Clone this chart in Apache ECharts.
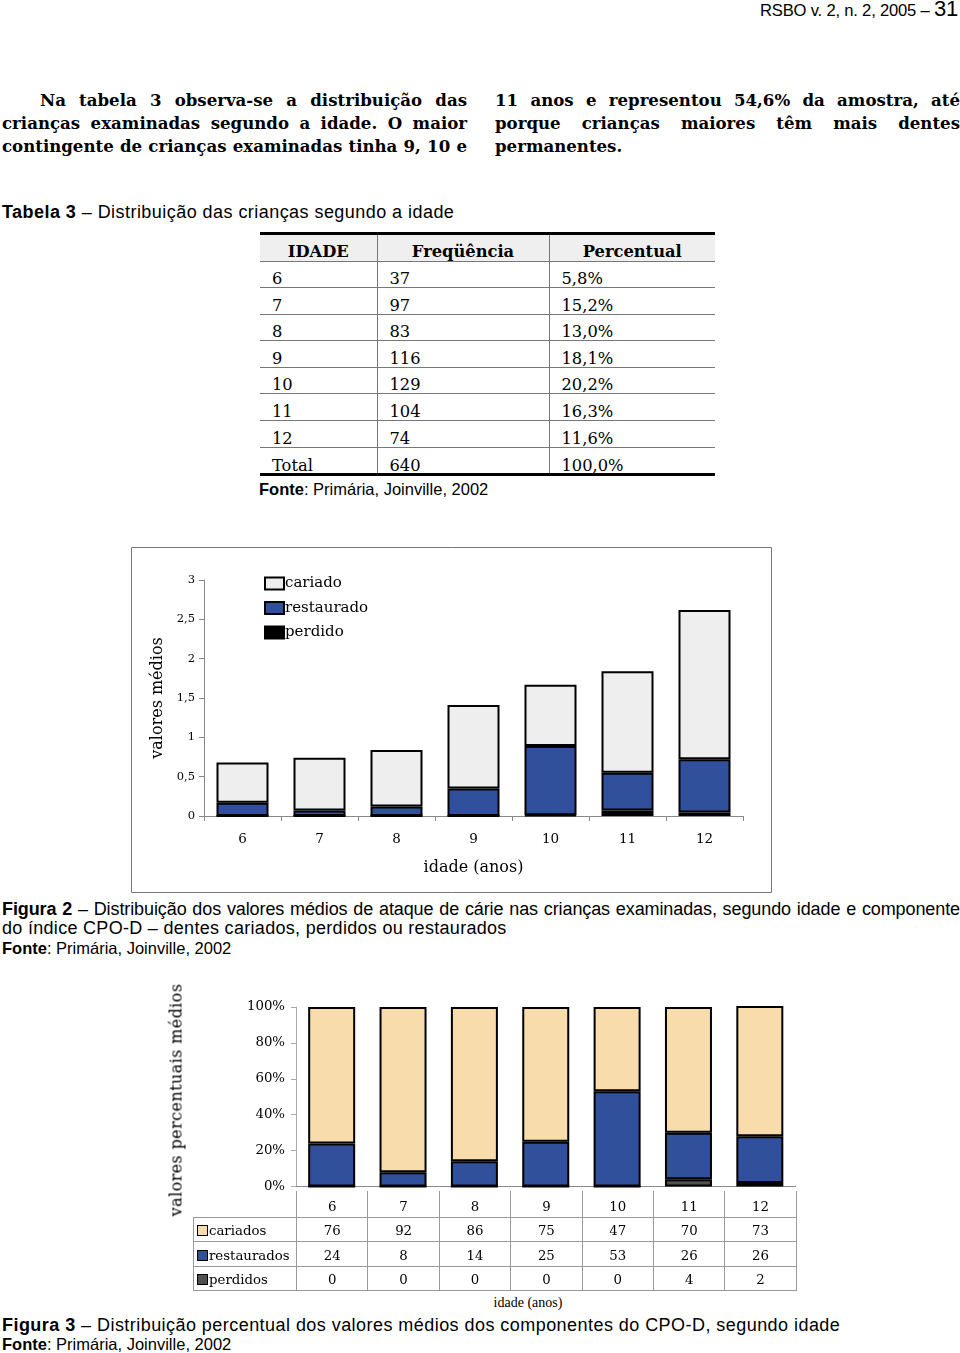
<!DOCTYPE html>
<html>
<head>
<meta charset="utf-8">
<script src="https://cdn.jsdelivr.net/npm/echarts@6/dist/echarts.min.js"></script>
<style>
  html, body { margin:0; padding:0; background:#fff; }
  #page { position:relative; width:960px; height:1353px; overflow:hidden; background:#fff; color:#000; }
  .abs { position:absolute; white-space:nowrap; }
  .body { font-family:'DejaVu Serif', serif; font-weight:bold; font-size:16.6px; line-height:23px; height:23px; text-align:justify; text-align-last:justify; white-space:nowrap; overflow:visible; }
  .sans { font-family:'Liberation Sans', Arial, sans-serif; }
  .cap { font-family:'Liberation Sans', Arial, sans-serif; font-size:18px; line-height:20px; }
  table { border-collapse:collapse; table-layout:fixed; }
  #t3 td, #t3 th { font-family:'DejaVu Serif', serif; font-size:16.3px; line-height:17px; padding:0 0 0 12px; text-align:left; vertical-align:bottom; border-right:1px solid #777; border-bottom:1px solid #777; }
  #t3 th { font-weight:bold; text-align:center; line-height:18px; padding:0; background:#efefef; }
  #t3 td:last-child, #t3 th:last-child { border-right:none; }
  #t4 td { font-family:'DejaVu Serif', serif; font-size:13.3px; line-height:16px; text-align:center; vertical-align:bottom; border:1px solid #999; padding:0 0 2px 0; }
  #t4 td.lab { text-align:left; padding-left:3px; }
  .key { display:inline-block; width:9px; height:9px; border:1px solid #000; margin-right:1px; vertical-align:-1px; }
</style>
</head>
<body>
<div id="page">
  <div class="abs sans" style="right:2px; top:-3px; font-size:16.6px; line-height:24px; letter-spacing:-0.2px;">RSBO v. 2, n. 2, 2005 – <span style="font-size:22px;">31</span></div>

  <div class="abs sans" style="left:2px; top:201px; font-size:18px; line-height:22px; letter-spacing:0.45px;"><b>Tabela 3</b> – Distribuição das crianças segundo a idade</div>
  <div class="abs" style="left:260px; top:232px; width:455px; height:3px; background:#000;"></div>
  <table id="t3" class="abs" style="left:260px; top:235px; width:455px;"></table>
  <div class="abs" id="t3bottom" style="left:260px; top:473px; width:455px; height:3px; background:#000;"></div>
  <div class="abs sans" style="left:259px; top:479px; font-size:16.5px; line-height:20px;"><b>Fonte</b>: Primária, Joinville, 2002</div>

  <div id="chart1" class="abs" style="left:131px; top:547px; width:642px; height:347px;"></div>

  <div class="abs cap" style="left:2px; top:899px; width:958px; white-space:nowrap; text-align:justify; text-align-last:justify; height:20px; letter-spacing:-0.1px;"><b>Figura 2</b> – Distribuição dos valores médios de ataque de cárie nas crianças examinadas, segundo idade e componente</div>
  <div class="abs cap" style="left:2px; top:918px; letter-spacing:0.3px;">do índice CPO-D – dentes cariados, perdidos ou restaurados</div>
  <div class="abs sans" style="left:2px; top:938px; font-size:16.5px; line-height:20px;"><b>Fonte</b>: Primária, Joinville, 2002</div>

  <div id="chart2" class="abs" style="left:160px; top:975px; width:640px; height:218px;"></div>
  <div class="abs" style="left:176px; top:1100px; width:0; height:0;">
    <div style="position:absolute; left:0; top:0; transform:translate(-50%,-50%) rotate(-90deg); font-family:'DejaVu Serif', serif; font-size:16px; letter-spacing:0.4px; white-space:nowrap;">valores percentuais médios</div>
  </div>
  <table id="t4" class="abs" style="left:193px; top:1191px; width:603px;"></table>
  <div class="abs" style="left:528px; top:1294px; transform:translateX(-50%); font-family:'Liberation Serif', serif; font-size:14px; line-height:18px;">idade (anos)</div>

  <div class="abs cap" style="left:2px; top:1315px; letter-spacing:0.45px;"><b>Figura 3</b> – Distribuição percentual dos valores médios dos componentes do CPO-D, segundo idade</div>
  <div class="abs sans" style="left:2px; top:1334px; font-size:16.5px; line-height:20px;"><b>Fonte</b>: Primária, Joinville, 2002</div>
</div>

<script>
// ---------- Text ----------
const col1Lines = [
  'Na tabela 3 observa-se a distribuição das',
  'crianças examinadas segundo a idade. O maior',
  'contingente de crianças examinadas tinha 9, 10 e'
];
const col2Lines = [
  '11 anos e representou 54,6% da amostra, até',
  'porque crianças maiores têm mais dentes',
  'permanentes.'
];

// ---------- Tabela 3 ----------
const t3Headers = ['IDADE', 'Freqüência', 'Percentual'];
const t3Idade = ['6', '7', '8', '9', '10', '11', '12', 'Total'];
const t3Freq = ['37', '97', '83', '116', '129', '104', '74', '640'];
const t3Pct = ['5,8%', '15,2%', '13,0%', '18,1%', '20,2%', '16,3%', '11,6%', '100,0%'];

// ---------- Figura 2 ----------
const ages = ['6', '7', '8', '9', '10', '11', '12'];
const perdido = [0, 0, 0, 0, 0.01, 0.07, 0.045];
const restaurado = [0.17, 0.07, 0.12, 0.35, 0.88, 0.48, 0.675];
const cariado = [0.51, 0.67, 0.72, 1.06, 0.78, 1.29, 1.90];

// ---------- Figura 3 ----------
const pctCariados = [76, 92, 86, 75, 47, 70, 73];
const pctRestaurados = [24, 8, 14, 25, 53, 26, 26];
const pctPerdidos = [0, 0, 0, 0, 0, 4, 2];
const fig3RowNames = ['cariados', 'restaurados', 'perdidos'];

const C_CAR1 = '#eeeeee', C_REST = '#30509c', C_PERD1 = '#000000';
const C_CAR2 = '#f8dcab', C_PERD2 = '#505050';

// body columns
function placeLines(lines, left, width, firstIndent, lastJustify) {
  const page = document.getElementById('page');
  lines.forEach((t, i) => {
    const d = document.createElement('div');
    d.className = 'abs body';
    const ind = i === 0 ? firstIndent : 0;
    d.style.left = (left + ind) + 'px';
    d.style.width = (width - ind) + 'px';
    d.style.top = (88.5 + i * 23) + 'px';
    if (i === lines.length - 1 && !lastJustify) { d.style.textAlignLast = 'left'; }
    d.textContent = t;
    page.appendChild(d);
  });
}
placeLines(col1Lines, 2, 465, 38, true);
placeLines(col2Lines, 495, 465, 0, false);

// Tabela 3
(function () {
  const tb = document.getElementById('t3');
  let html = '<colgroup><col style="width:117px"><col style="width:172px"><col style="width:166px"></colgroup>';
  html += '<tr style="height:26px">' + t3Headers.map(h => '<th>' + h + '</th>').join('') + '</tr>';
  t3Idade.forEach((a, i) => {
    const last = i === t3Idade.length - 1;
    const st = last ? ' style="border-bottom:none"' : '';
    html += '<tr style="height:26.6px"><td' + st + '>' + a + '</td><td' + st + '>' + t3Freq[i] + '</td><td' + st + '>' + t3Pct[i] + '</td></tr>';
  });
  tb.innerHTML = html;
})();

// Tabela da Figura 3
(function () {
  const tb = document.getElementById('t4');
  const colors = [C_CAR2, C_REST, C_PERD2];
  const vals = [pctCariados, pctRestaurados, pctPerdidos];
  let html = '<colgroup><col style="width:103px">' + ages.map(() => '<col style="width:71.4px">').join('') + '</colgroup>';
  html += '<tr style="height:26px"><td style="border:none;border-right:1px solid #999"></td>' + ages.map(a => '<td style="border-top:none">' + a + '</td>').join('') + '</tr>';
  fig3RowNames.forEach((n, r) => {
    html += '<tr style="height:24.5px"><td class="lab"><span class="key" style="background:' + colors[r] + '"></span>' + n + '</td>' +
      vals[r].map(v => '<td>' + v + '</td>').join('') + '</tr>';
  });
  tb.innerHTML = html;
})();

// ---------- Chart 1 ----------
const fmtComma = v => String(v).replace('.', ',');
const barBorder = { borderColor: '#000', borderWidth: 2 };
const chart1 = echarts.init(document.getElementById('chart1'), null, { renderer: 'canvas' });
chart1.setOption({
  animation: false,
  graphic: [{ type: 'rect', shape: { x: 0.5, y: 0.5, width: 640, height: 345 }, style: { fill: null, stroke: '#777', lineWidth: 1 } }],
  grid: { left: 73, top: 33, width: 539, height: 236, containLabel: false },
  legend: {
    orient: 'vertical', left: 128, top: 24, itemWidth: 19, itemHeight: 12, itemGap: 9.5,
    icon: 'rect', selectedMode: false,
    data: ['cariado', 'restaurado', 'perdido'],
    itemStyle: { borderColor: '#000', borderWidth: 2 },
    textStyle: { fontFamily: 'DejaVu Serif', fontSize: 15, color: '#000', padding: [0, 0, 0, -4] }
  },
  xAxis: {
    type: 'category', data: ages,
    axisLine: { lineStyle: { color: '#888', width: 1 } },
    axisTick: { show: true, length: 5, lineStyle: { color: '#888' } },
    axisLabel: { margin: 16, fontFamily: 'DejaVu Serif', fontSize: 13.5, color: '#000' },
    name: 'idade (anos)', nameLocation: 'middle', nameGap: 44,
    nameTextStyle: { fontFamily: 'DejaVu Serif', fontSize: 16, color: '#000' }
  },
  yAxis: {
    type: 'value', min: 0, max: 3, interval: 0.5,
    axisLine: { show: true, lineStyle: { color: '#888', width: 1 } },
    axisTick: { show: true, length: 5, lineStyle: { color: '#888' } },
    splitLine: { show: false },
    axisLabel: { margin: 9, fontFamily: 'DejaVu Serif', fontSize: 11.5, color: '#000', formatter: fmtComma },
    name: 'valores médios', nameLocation: 'middle', nameGap: 38,
    nameTextStyle: { fontFamily: 'DejaVu Serif', fontSize: 16, color: '#000' }
  },
  series: [
    { name: 'perdido', type: 'bar', stack: 'a', data: perdido, barWidth: 52, itemStyle: Object.assign({ color: C_PERD1 }, barBorder) },
    { name: 'restaurado', type: 'bar', stack: 'a', data: restaurado, barWidth: 52, itemStyle: Object.assign({ color: C_REST }, barBorder) },
    { name: 'cariado', type: 'bar', stack: 'a', data: cariado, barWidth: 52, itemStyle: Object.assign({ color: C_CAR1 }, barBorder) }
  ]
});

// ---------- Chart 2 ----------
const chart2 = echarts.init(document.getElementById('chart2'), null, { renderer: 'canvas' });
chart2.setOption({
  animation: false,
  grid: { left: 136, top: 32, width: 499.5, height: 183, containLabel: false },
  xAxis: {
    type: 'category', data: ages,
    axisLine: { show: true, lineStyle: { color: '#888', width: 1 } },
    axisTick: { show: false }, axisLabel: { show: false }
  },
  yAxis: {
    type: 'value', min: 0, max: 100, interval: 20,
    axisLine: { show: true, lineStyle: { color: '#aaa', width: 1 } },
    axisTick: { show: true, length: 5, lineStyle: { color: '#aaa' } },
    splitLine: { show: false },
    axisLabel: { margin: 11, fontFamily: 'DejaVu Serif', fontSize: 13.3, color: '#000', formatter: '{value}%' }
  },
  series: [
    { name: 'perdidos', type: 'bar', stack: 'p', data: pctPerdidos, barWidth: 47, clip: true, itemStyle: Object.assign({ color: C_PERD2 }, barBorder) },
    { name: 'restaurados', type: 'bar', stack: 'p', data: pctRestaurados, barWidth: 47, clip: true, itemStyle: Object.assign({ color: C_REST }, barBorder) },
    { name: 'cariados', type: 'bar', stack: 'p', data: pctCariados, barWidth: 47, clip: true, itemStyle: Object.assign({ color: C_CAR2 }, barBorder) }
  ]
});
</script>
</body>
</html>
